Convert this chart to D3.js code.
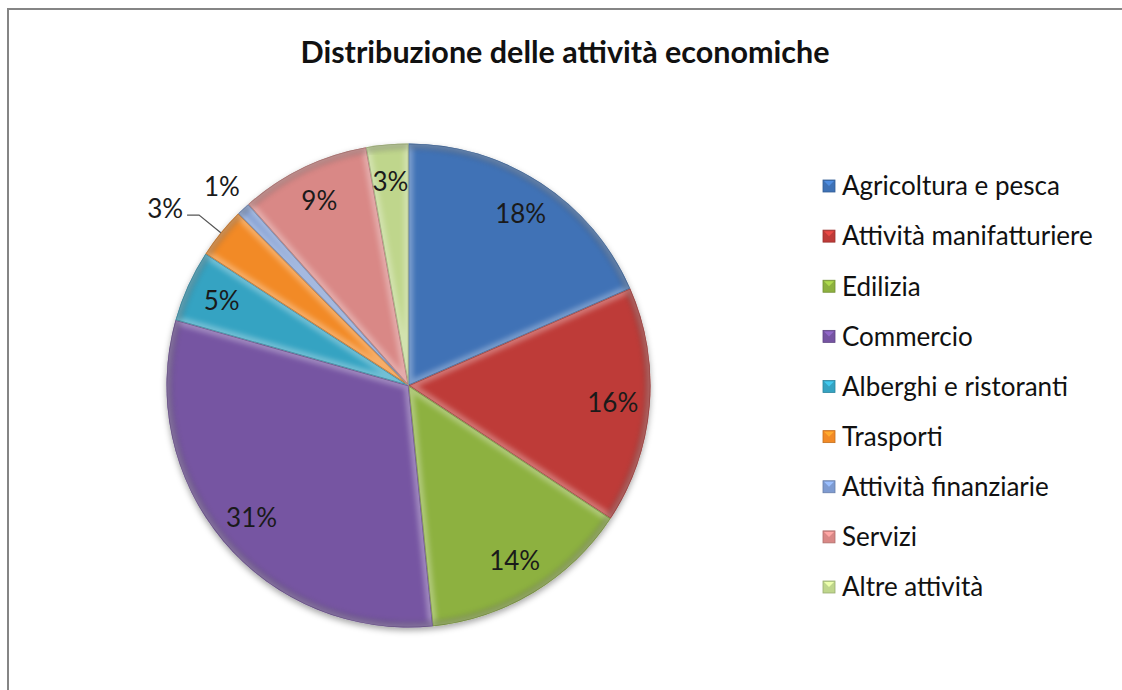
<!DOCTYPE html>
<html>
<head>
<meta charset="utf-8">
<script src="https://cdn.jsdelivr.net/npm/d3@7"></script>
<style>
  html, body { margin: 0; padding: 0; background: #fff; }
  svg { display: block; }
</style>
</head>
<body>
<svg id="chart" width="1122" height="690"></svg>
<script>
// ---- data ----
const titleText = "Distribuzione delle attività economiche";
const categories = ["Agricoltura e pesca", "Attività manifatturiere", "Edilizia", "Commercio",
  "Alberghi e ristoranti", "Trasporti", "Attività finanziarie", "Servizi", "Altre attività"];
const values = [18.4, 15.8, 14.1, 30.9, 4.8, 3.4, 0.9, 8.7, 2.8];
const colors = ["#3f72b6", "#be3b38", "#8db13f", "#7654a2", "#35a3c2", "#f28a26", "#7e9bd1", "#d98886", "#bfd68c"];

// ---- layout ----
const W = 1122, H = 690;
const cx = 408.5, cy = 385.5, R = 242;
const svg = d3.select("#chart");
const font = "Lato, 'Open Sans', sans-serif";

// frame (left & top visible)
svg.append("path").attr("d", `M8,${H} L8,9 L${W},9`).attr("fill", "none")
  .attr("stroke", "#858585").attr("stroke-width", 2);

// title
svg.append("text").attr("x", 565).attr("y", 63).attr("text-anchor", "middle")
  .attr("font-family", font).attr("font-weight", "bold").attr("font-size", 30.5)
  .attr("fill", "#111").text(titleText);

const defs = svg.append("defs");
const sh = defs.append("filter").attr("id", "shadow").attr("x", "-20%").attr("y", "-20%").attr("width", "140%").attr("height", "140%");
sh.append("feDropShadow").attr("dx", 0).attr("dy", 3).attr("stdDeviation", 3)
  .attr("flood-color", "#000").attr("flood-opacity", 0.35);
defs.append("filter").attr("id", "soft").append("feGaussianBlur").attr("stdDeviation", 2.5);

const data = categories.map((c, i) => ({ name: c, value: values[i], color: colors[i] }));
const total = d3.sum(values);
const pie = d3.pie().value(d => d.value).sort(null);
const arcs = pie(data);
const arc = d3.arc().innerRadius(0).outerRadius(R);

const g = svg.append("g").attr("transform", `translate(${cx},${cy})`);
const shadowG = g.append("g").attr("filter", "url(#shadow)");
shadowG.selectAll("path.base").data(arcs).join("path").attr("class", "base")
  .attr("d", arc).attr("fill", d => d.data.color);

// bevel effect
arcs.forEach((a, i) => {
  const id = "clip" + i;
  defs.append("clipPath").attr("id", id).append("path").attr("d", arc(a)).attr("transform", `translate(${cx},${cy})`);
});
const bevel = svg.append("g");
arcs.forEach((a, i) => {
  const cg = bevel.append("g").attr("clip-path", `url(#clip${i})`)
    .append("g").attr("transform", `translate(${cx},${cy})`);
  // soft light inner edge
  cg.append("path").attr("d", arc(a)).attr("fill", "none").attr("filter", "url(#soft)")
    .attr("stroke", "#fff").attr("stroke-opacity", 0.3).attr("stroke-width", 9);
  // darker outer rim
  cg.append("path").attr("d", d3.arc().innerRadius(R - 6).outerRadius(R + 2)(a)).attr("filter", "url(#soft)")
    .attr("fill", "#000").attr("fill-opacity", 0.2);
  // thin dark outline
  cg.append("path").attr("d", arc(a)).attr("fill", "none")
    .attr("stroke", d3.color(a.data.color).darker(1.2)).attr("stroke-opacity", 0.55).attr("stroke-width", 1.5);
});

// labels
const fmt = v => Math.round(v / total * 100) + "%";
const inArc = d3.arc().innerRadius(205).outerRadius(205);
const lab = svg.append("g").attr("transform", `translate(${cx},${cy})`)
  .attr("font-family", font).attr("font-size", 26).attr("fill", "#1a1a1a");
arcs.forEach((a, i) => {
  const pct = a.data.value / total;
  const mid = (a.startAngle + a.endAngle) / 2;
  if (pct >= 0.025 && a.data.name !== "Trasporti") {
    const [x, y] = inArc.centroid(a);
    lab.append("text").attr("x", x).attr("y", y).attr("dy", "0.36em")
      .attr("text-anchor", "middle").text(fmt(a.data.value));
  } else if (pct < 0.02) {
    const r = 273;
    lab.append("text").attr("x", r * Math.sin(mid)).attr("y", -r * Math.cos(mid)).attr("dy", "0.36em")
      .attr("text-anchor", "middle").text(fmt(a.data.value));
  } else {
    // outside with leader line
    const p0 = [R * Math.sin(mid), -R * Math.cos(mid)];
    const p1 = [270 * Math.sin(mid), -270 * Math.cos(mid)];
    const p2 = [p1[0] - 12, p1[1]];
    lab.append("path").attr("d", `M${p0[0]},${p0[1]}L${p1[0]},${p1[1]}L${p2[0]},${p2[1]}`)
      .attr("fill", "none").attr("stroke", "#555").attr("stroke-width", 1.2);
    lab.append("text").attr("x", p2[0] - 4).attr("y", p2[1] - 6).attr("dy", "0.36em")
      .attr("text-anchor", "end").text(fmt(a.data.value));
  }
});

// legend
const ly = d3.scalePoint().domain(categories).range([186, 587]);
const leg = svg.append("g").attr("font-family", font).attr("font-size", 26);
categories.forEach((c, i) => {
  const y = ly(c);
  const col = d3.color(colors[i]);
  leg.append("rect").attr("x", 823).attr("y", y - 6).attr("width", 12).attr("height", 12)
    .attr("fill", colors[i]).attr("stroke", col.darker(0.6)).attr("stroke-width", 0.8);
  leg.append("path").attr("d", `M824,${y - 5}L829,${y}L834,${y - 5}Z`).attr("fill", col.brighter(0.6));
  leg.append("text").attr("x", 842).attr("y", y).attr("dy", "0.36em").attr("fill", "#111").text(c);
});
</script>
</body>
</html>
